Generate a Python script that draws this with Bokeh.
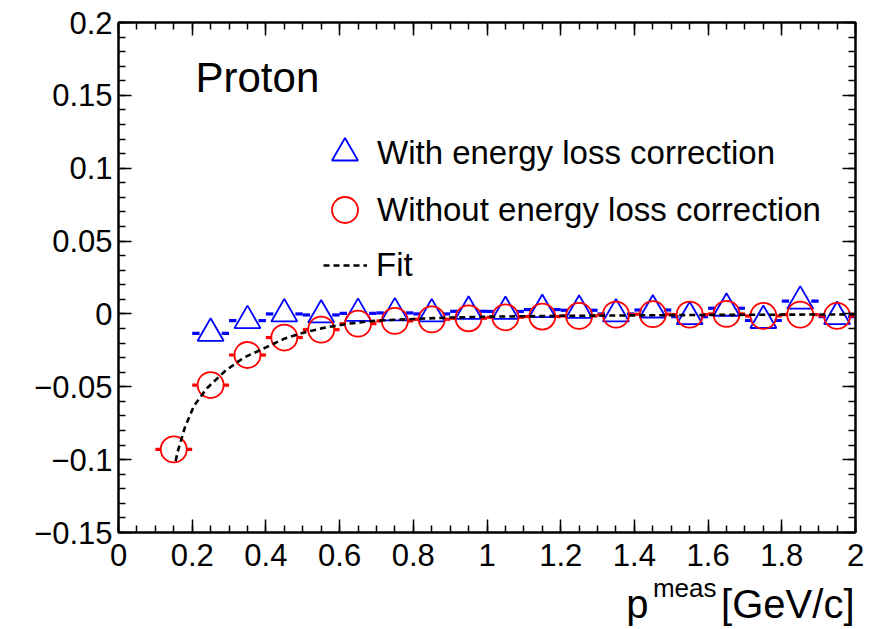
import numpy as np
from bokeh.plotting import figure
from bokeh.layouts import column
from bokeh.models import Range1d, FixedTicker, LinearAxis, Label, Legend, LegendItem
from bokeh.embed import file_html
from bokeh.resources import INLINE

# ---------------- data ----------------
x_with = [0.25, 0.35, 0.45, 0.55, 0.65, 0.75, 0.85, 0.95, 1.05, 1.15,
          1.25, 1.35, 1.45, 1.55, 1.65, 1.75, 1.85, 1.95]
y_with = [-0.0133, -0.0046, 0.0000, -0.0007, 0.0004, 0.0007, 0.0000, 0.0018, 0.0017, 0.0030,
          0.0025, 0.0000, 0.0027, -0.0019, 0.0039, -0.0045, 0.0088, -0.0018]

x_without = [0.15, 0.25, 0.35, 0.45, 0.55, 0.65, 0.75, 0.85, 0.95, 1.05,
             1.15, 1.25, 1.35, 1.45, 1.55, 1.65, 1.75, 1.85, 1.95]
y_without = [-0.0930, -0.0488, -0.0282, -0.0162, -0.0108, -0.0067, -0.0048, -0.0037, -0.0030, -0.0023,
             -0.0018, -0.0014, -0.0005, -0.0002, -0.0005, 0.0000, -0.0014, -0.0005, -0.0014]

fit_x = [0.155, 0.16, 0.18, 0.205, 0.24, 0.29, 0.34, 0.40, 0.45, 0.50, 0.56, 0.63,
         0.70, 0.80, 0.90, 1.00, 1.20, 1.40, 1.60, 1.80, 2.00]
fit_y = [-0.101, -0.095, -0.078, -0.063, -0.051, -0.039, -0.030, -0.023, -0.017, -0.013, -0.0094, -0.0065,
         -0.0046, -0.0035, -0.0025, -0.0019, -0.0013, -0.0010, -0.0007, -0.0005, -0.0003]

bin_half_width = 0.05

x_ticks = [0, 0.2, 0.4, 0.6, 0.8, 1, 1.2, 1.4, 1.6, 1.8, 2]
x_tick_labels = ["0", "0.2", "0.4", "0.6", "0.8", "1", "1.2", "1.4", "1.6", "1.8", "2"]
y_ticks = [-0.15, -0.1, -0.05, 0, 0.05, 0.1, 0.15, 0.2]
y_tick_labels = ["\u22120.15", "\u22120.1", "\u22120.05", "0", "0.05", "0.1", "0.15", "0.2"]

series_labels = ["With energy loss correction", "Without energy loss correction", "Fit"]
panel_label = "Proton"
x_title_main = "p"
x_title_sup = "meas"
x_title_unit = "[GeV/c]"

# ---------------- styles ----------------
FONT = "Liberation Sans"
BLUE = "#0000ff"
RED = "#ff0000"

p = figure(width=876, height=574, x_range=Range1d(0, 2), y_range=Range1d(-0.15, 0.2),
           output_backend="svg", toolbar_location=None,
           min_border_left=118, min_border_right=21, min_border_top=22, min_border_bottom=42)
p.grid.visible = False
p.outline_line_color = "black"
p.outline_line_width = 2
p.background_fill_color = "white"
p.border_fill_color = "white"

bottom_axis = p.below[0]
left_axis = p.left[0]

x_minor = list(np.round(np.arange(0, 2.0001, 0.05), 4))
y_minor = list(np.round(np.arange(-0.15, 0.2001, 0.01), 4))

above = LinearAxis()
right = LinearAxis()
p.add_layout(above, "above")
p.add_layout(right, "right")

def style_axis(ax, ticks, labels, minor, show):
    ax.ticker = FixedTicker(ticks=ticks, minor_ticks=minor)
    ax.major_label_overrides = {t: (l if show else "") for t, l in zip(ticks, labels)}
    ax.axis_line_width = 2
    ax.axis_line_color = "black"
    ax.major_tick_in = 13
    ax.major_tick_out = 0
    ax.minor_tick_in = 7
    ax.minor_tick_out = 0
    ax.major_tick_line_width = 1.5
    ax.minor_tick_line_width = 1.5
    ax.major_label_text_font = FONT
    ax.major_label_text_font_size = "31px" if show else "0px"
    ax.major_label_text_color = "black"

style_axis(bottom_axis, x_ticks, x_tick_labels, x_minor, True)
style_axis(left_axis, y_ticks, y_tick_labels, y_minor, True)
style_axis(above, x_ticks, x_tick_labels, x_minor, False)
style_axis(right, y_ticks, y_tick_labels, y_minor, False)
bottom_axis.major_label_standoff = 11
left_axis.major_label_standoff = 6

# ---------------- error bars (drawn outside the markers) ----------------
xw = np.array(x_with); yw = np.array(y_with)
xo = np.array(x_without); yo = np.array(y_without)
gap_tri = 0.03
gap_circ = 0.035

p.segment(x0=np.concatenate([xw - bin_half_width, xw + gap_tri]), y0=np.concatenate([yw, yw]),
          x1=np.concatenate([xw - gap_tri, xw + bin_half_width]), y1=np.concatenate([yw, yw]),
          line_color=BLUE, line_width=3.2)
r_with = p.scatter(x_with, y_with, marker="triangle", size=26, fill_color=None,
                   line_color=BLUE, line_width=1.8)

p.segment(x0=np.concatenate([xo - bin_half_width, xo + gap_circ]), y0=np.concatenate([yo, yo]),
          x1=np.concatenate([xo - gap_circ, xo + bin_half_width]), y1=np.concatenate([yo, yo]),
          line_color=RED, line_width=3.2)
r_without = p.scatter(x_without, y_without, marker="circle", size=26, fill_color=None,
                      line_color=RED, line_width=1.8)

r_fit = p.line(fit_x, fit_y, line_color="black", line_width=2.6, line_dash="6 4")

# ---------------- legends ----------------
def make_legend(label, rend, loc, gw, gh, standoff):
    leg = Legend(items=[LegendItem(label=label, renderers=[rend])], location=loc,
                 glyph_width=gw, glyph_height=gh, label_standoff=standoff,
                 padding=0, margin=0, spacing=0, border_line_color=None,
                 background_fill_alpha=0, label_text_font=FONT,
                 label_text_font_size="33px", label_text_color="black")
    p.add_layout(leg, "center")

make_legend(series_labels[0], r_with, (194, 347), 65, 65, 0)
make_legend(series_labels[1], r_without, (194, 290), 65, 65, 0)
make_legend(series_labels[2], r_fit, (205, 247), 44, 40, 9)

# ---------------- panel label ----------------
p.add_layout(Label(x=0, y=0.2, x_offset=77, y_offset=-55, text=panel_label,
                   text_font=FONT, text_font_size="42px", text_align="left",
                   text_baseline="alphabetic", text_color="black"))

# ---------------- x-axis title strip (frame aligned with the plot above) ----------------
t = figure(width=876, height=55, x_range=Range1d(0, 2), y_range=Range1d(629, 574),
           output_backend="svg", toolbar_location=None, x_axis_type=None, y_axis_type=None,
           min_border_left=118, min_border_right=21, min_border_top=0, min_border_bottom=0)
t.grid.visible = False
t.outline_line_color = None
t.background_fill_color = "white"
t.border_fill_color = "white"

t.add_layout(Label(x=2, y=603, x_offset=-1, text=x_title_unit, text_font=FONT, text_font_size="40px",
                   text_align="right", text_baseline="alphabetic", text_color="black"))
t.add_layout(Label(x=2, y=587, x_offset=-139, text=x_title_sup, text_font=FONT, text_font_size="26px",
                   text_align="right", text_baseline="alphabetic", text_color="black"))
t.add_layout(Label(x=2, y=603, x_offset=-207, text=x_title_main, text_font=FONT, text_font_size="40px",
                   text_align="right", text_baseline="alphabetic", text_color="black"))

layout = column(p, t, spacing=0)
open("out.html", "w").write(file_html(layout, INLINE))
